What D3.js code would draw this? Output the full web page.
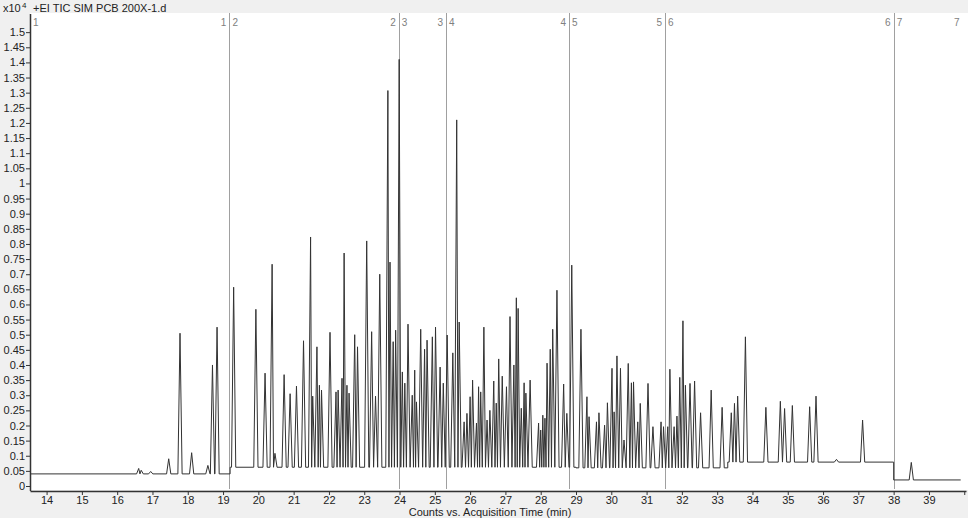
<!DOCTYPE html>
<html>
<head>
<meta charset="utf-8">
<script src="https://cdn.jsdelivr.net/npm/d3@7"></script>
<style>
  body { margin: 0; background: #f0f0f0; }
  svg text { font-family: "Liberation Sans", Arial, sans-serif; }
</style>
</head>
<body>
<div id="chart"></div>
<script>
// retention time (min), height (x10^4 counts)
const peaks = [
  [16.61, 0.058], [16.68, 0.052], [16.95, 0.048], [17.46, 0.09], [17.78, 0.505],
  [18.11, 0.11], [18.57, 0.068], [18.70, 0.40], [18.83, 0.525],
  [19.30, 0.657], [19.93, 0.584], [20.19, 0.373], [20.39, 0.733], [20.47, 0.108],
  [20.73, 0.368], [20.90, 0.305], [21.08, 0.33], [21.28, 0.48], [21.48, 0.823],
  [21.54, 0.297], [21.66, 0.46], [21.73, 0.333], [21.79, 0.317], [22.03, 0.508],
  [22.20, 0.311], [22.26, 0.317], [22.37, 0.356], [22.43, 0.77], [22.51, 0.333],
  [22.57, 0.307], [22.73, 0.50], [22.81, 0.46], [23.07, 0.81], [23.21, 0.51],
  [23.32, 0.297], [23.44, 0.70], [23.67, 1.307], [23.73, 0.74], [23.82, 0.477],
  [23.89, 0.515], [23.99, 1.41],
  [24.08, 0.377], [24.15, 0.34], [24.24, 0.535], [24.36, 0.30], [24.43, 0.383],
  [24.48, 0.278], [24.60, 0.518], [24.71, 0.452], [24.78, 0.482], [24.93, 0.493],
  [25.02, 0.525], [25.15, 0.393], [25.24, 0.34],
  [25.35, 0.499], [25.51, 0.44], [25.62, 1.21], [25.69, 0.542], [25.83, 0.212],
  [25.91, 0.24], [26.00, 0.295], [26.07, 0.35], [26.18, 0.208], [26.24, 0.328],
  [26.30, 0.311], [26.39, 0.525], [26.48, 0.218], [26.56, 0.25], [26.67, 0.347],
  [26.74, 0.274], [26.81, 0.42], [26.91, 0.363], [27.03, 0.328], [27.13, 0.56],
  [27.24, 0.40], [27.31, 0.622], [27.36, 0.587], [27.45, 0.257], [27.53, 0.341],
  [27.58, 0.307], [27.70, 0.35], [27.94, 0.208], [28.00, 0.185], [28.06, 0.234],
  [28.12, 0.224], [28.18, 0.406], [28.27, 0.452], [28.34, 0.518], [28.46, 0.647],
  [28.65, 0.337], [28.74, 0.24],
  [28.88, 0.73], [29.14, 0.518], [29.31, 0.295], [29.37, 0.229], [29.58, 0.212],
  [29.65, 0.242], [29.81, 0.201], [29.89, 0.275], [30.02, 0.389], [30.08, 0.245],
  [30.16, 0.43], [30.26, 0.389], [30.36, 0.152], [30.48, 0.405], [30.57, 0.341],
  [30.63, 0.344], [30.75, 0.212], [30.82, 0.273], [31.04, 0.339], [31.18, 0.196],
  [31.41, 0.212], [31.48, 0.196],
  [31.60, 0.196], [31.66, 0.386], [31.78, 0.196], [31.86, 0.231], [31.94, 0.359],
  [32.03, 0.546], [32.10, 0.333], [32.23, 0.339], [32.36, 0.347], [32.53, 0.242],
  [32.83, 0.317], [33.14, 0.26], [33.40, 0.242], [33.49, 0.273], [33.58, 0.297],
  [33.80, 0.493], [34.38, 0.26], [34.79, 0.28], [34.91, 0.256], [35.13, 0.266],
  [35.62, 0.262], [35.80, 0.297], [36.38, 0.088], [37.12, 0.218],
  [38.50, 0.078]
];

// baseline levels: [from, to, level]
const baseline = [
  [13.53, 19.20, 0.04],
  [19.20, 29.00, 0.062],
  [29.00, 33.30, 0.06],
  [33.30, 38.00, 0.079],
  [38.00, 39.90, 0.02]
];

// acquisition segments (time windows)
const segments = [
  [13.53, 19.18], [19.18, 23.98], [23.98, 25.32], [25.32, 28.80],
  [28.80, 31.52], [31.52, 38.00], [38.00, 39.95]
];

const xTicks = d3.range(14, 41);
const yTicks = d3.range(0, 31).map(i => i * 0.05);

const W = 968, H = 518;
const mLeft = 30, mRight = 966, mTop = 14, mBottom = 486;

const svg = d3.select("#chart").append("svg")
  .attr("width", W).attr("height", H)
  .style("display", "block");

svg.append("rect").attr("width", W).attr("height", H).attr("fill", "#f0f0f0");
svg.append("rect").attr("x", mLeft).attr("y", 13).attr("width", W - mLeft).attr("height", 477)
  .attr("fill", "#fff");

const x = d3.scaleLinear().domain([13.53, 40.05]).range([mLeft, mRight]);
const y = d3.scaleLinear().domain([0, 1.56]).range([mBottom, mTop]);

// segment separators
segments.forEach(function(s, i) {
  if (i > 0) {
    svg.append("line")
      .attr("x1", Math.round(x(s[0])) + 0.5).attr("x2", Math.round(x(s[0])) + 0.5)
      .attr("y1", 13).attr("y2", 489)
      .attr("stroke", "#a0a0a0").attr("stroke-width", 1);
  }
  svg.append("text")
    .attr("x", x(s[0]) + 3).attr("y", 26)
    .attr("font-size", 10).attr("fill", "#808080")
    .text(i + 1);
  svg.append("text")
    .attr("x", x(s[1]) - 3).attr("y", 26)
    .attr("text-anchor", "end")
    .attr("font-size", 10).attr("fill", "#808080")
    .text(i + 1);
});

// build the trace: baseline steps + each peak as foot / apex / foot,
// a foot never passes the halfway point to the neighbouring peak
function baseAt(t) {
  let b = baseline.find(d => t >= d[0] && t < d[1]);
  return b ? b[2] : baseline[baseline.length - 1][2];
}
const w = 0.06;
let pts = [];
baseline.forEach(function(b) {
  pts.push([b[0], b[2]]);
  pts.push([b[1] - 0.0001, b[2]]);
});
peaks.forEach(function(p, i) {
  const b = baseAt(p[0]);
  const prev = i > 0 ? peaks[i - 1][0] : -Infinity;
  const next = i < peaks.length - 1 ? peaks[i + 1][0] : Infinity;
  pts.push([Math.max(p[0] - w, (p[0] + prev) / 2), b]);
  pts.push([p[0], p[1]]);
  pts.push([Math.min(p[0] + w, (p[0] + next) / 2), b]);
});
pts.sort((a, b) => a[0] - b[0]);

const line = d3.line()
  .x(d => x(d[0]))
  .y(d => y(d[1]));

svg.append("path")
  .datum(pts)
  .attr("d", line)
  .attr("fill", "none")
  .attr("stroke", "#333")
  .attr("stroke-width", 1)
  .attr("stroke-linejoin", "round");

// axes
const xAxis = svg.append("g")
  .attr("transform", "translate(0,491)")
  .call(d3.axisBottom(x).tickValues(xTicks).tickSize(4).tickSizeOuter(0)
    .tickFormat(d => d < 40 ? String(d) : ""));
const yAxis = svg.append("g")
  .attr("transform", "translate(" + mLeft + ",0)")
  .call(d3.axisLeft(y).tickValues(yTicks).tickSize(4).tickSizeOuter(0)
    .tickFormat(d => String(+d.toFixed(2))));
yAxis.select(".domain").attr("d", "M0.5,14V491");

[xAxis, yAxis].forEach(function(g) {
  g.select(".domain").attr("stroke", "#333").attr("stroke-width", 1.5);
  g.selectAll(".tick line").attr("stroke", "#333");
  g.selectAll(".tick text").attr("font-size", 11).attr("fill", "#222")
    .attr("font-family", "'Liberation Sans', Arial, sans-serif");
});
yAxis.selectAll(".tick text").attr("x", -5);
xAxis.selectAll(".tick text").attr("y", 5);

// titles
svg.append("text").attr("x", 3).attr("y", 12).attr("font-size", 11).attr("fill", "#222").text("x10");
svg.append("text").attr("x", 22).attr("y", 8).attr("font-size", 8).attr("fill", "#222").text("4");
svg.append("text").attr("x", 33).attr("y", 12).attr("font-size", 11).attr("fill", "#222")
  .text("+EI TIC SIM PCB 200X-1.d");
svg.append("text").attr("x", 490).attr("y", 516).attr("text-anchor", "middle")
  .attr("font-size", 11).attr("fill", "#222")
  .text("Counts vs. Acquisition Time (min)");
</script>
</body>
</html>
